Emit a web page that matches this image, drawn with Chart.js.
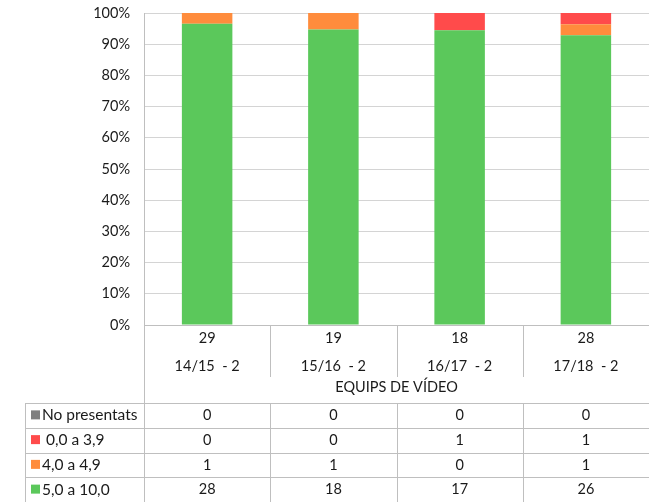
<!DOCTYPE html>
<html>
<head>
<meta charset="utf-8">
<script src="https://cdn.jsdelivr.net/npm/chart.js@4.4.1/dist/chart.umd.min.js"></script>
<style>
  html, body { margin: 0; padding: 0; background: #fff; }
  #wrap { width: 649px; height: 502px; }
</style>
</head>
<body>
<div id="wrap"><canvas id="chart" width="649" height="502"></canvas></div>
<script>
// data
const categories = ['14/15  - 2', '15/16  - 2', '16/17  - 2', '17/18  - 2'];
const axisTitle = 'EQUIPS DE VÍDEO';
const seriesNames = ['5,0 a 10,0', '4,0 a 4,9', ' 0,0 a 3,9', 'No presentats'];
const seriesColors = ['#5bc85b', '#ff8c3c', '#ff4b4b', '#7f7f7f'];
const notaAlta = [28, 18, 17, 26];
const notaMitja = [1, 1, 0, 1];
const notaBaixa = [0, 0, 1, 1];
const noPresentats = [0, 0, 0, 0];
const yTicks = [0, 10, 20, 30, 40, 50, 60, 70, 80, 90, 100];

const series = [notaAlta, notaMitja, notaBaixa, noPresentats];
const totals = categories.map((c, i) => series.reduce((s, arr) => s + arr[i], 0));
const pct = arr => arr.map((v, i) => totals[i] ? v / totals[i] * 100 : 0);

const FONT = 'Lato, "Open Sans", sans-serif';
const LINE = '#bfbfbf';

// table under the chart (legend + counts), drawn from the x scale
const tablePlugin = {
  id: 'dataTable',
  afterDraw(chart) {
    const ctx = chart.ctx;
    const x = chart.scales.x;
    const area = chart.chartArea;
    const n = categories.length;
    const colW = (area.right - area.left) / n;
    const tableTop = 403, rowH = 24.75, tableLeft = 25;
    const rows = series.length;
    const tableBottom = tableTop + rows * rowH;

    ctx.save();
    ctx.strokeStyle = LINE;
    ctx.lineWidth = 1;
    ctx.beginPath();
    // separators in the label band
    for (let i = 1; i < n; i++) {
      const px = Math.round(area.left + i * colW) + 0.5;
      ctx.moveTo(px, area.bottom); ctx.lineTo(px, 377);
      ctx.moveTo(px, tableTop); ctx.lineTo(px, tableBottom);
    }
    // left axis down through the table
    const lx = Math.round(area.left) + 0.5;
    ctx.moveTo(lx, area.bottom); ctx.lineTo(lx, tableBottom);
    // table left border
    ctx.moveTo(tableLeft + 0.5, tableTop); ctx.lineTo(tableLeft + 0.5, tableBottom);
    // row lines
    for (let r = 0; r <= rows; r++) {
      const py = Math.round(tableTop + r * rowH) + 0.5;
      ctx.moveTo(tableLeft, py); ctx.lineTo(area.right, py);
    }
    ctx.stroke();

    ctx.fillStyle = '#1a1a1a';
    ctx.textBaseline = 'middle';
    // rows from top: last series first
    for (let r = 0; r < rows; r++) {
      const si = rows - 1 - r;
      const cy = tableTop + r * rowH + rowH / 2;
      ctx.fillStyle = seriesColors[si];
      ctx.fillRect(tableLeft + 6, cy - 5, 9, 9);
      ctx.fillStyle = '#1a1a1a';
      ctx.textAlign = 'left';
      ctx.font = '15.5px ' + FONT;
      ctx.fillText(seriesNames[si], tableLeft + 17, cy);
      ctx.textAlign = 'center';
      ctx.font = '14.5px ' + FONT;
      for (let i = 0; i < n; i++) {
        ctx.fillText(String(series[si][i]), x.getPixelForValue(i), cy);
      }
    }
    ctx.restore();
  }
};

new Chart(document.getElementById('chart'), {
  type: 'bar',
  data: {
    labels: categories.map((c, i) => [String(totals[i]), c]),
    datasets: series.map((arr, i) => ({
      label: seriesNames[i],
      data: pct(arr),
      backgroundColor: seriesColors[i],
      borderWidth: 0,
      barPercentage: 0.4,
      categoryPercentage: 1
    }))
  },
  options: {
    responsive: false,
    animation: false,
    layout: { padding: { top: 13, right: 0, bottom: 102, left: 0 } },
    plugins: { legend: { display: false }, tooltip: { enabled: false } },
    scales: {
      x: {
        stacked: true,
        grid: { display: false },
        border: { display: true, color: LINE },
        ticks: { color: '#1a1a1a', font: { family: FONT, size: 14.5, lineHeight: 1.9 }, padding: -8, maxRotation: 0 },
        title: { display: true, text: axisTitle, color: '#1a1a1a', font: { family: FONT, size: 14.5 }, padding: { top: 0, bottom: 4 } },
        afterFit(s) { s.height = 75; s.paddingLeft = 0; s.paddingRight = 0; }
      },
      y: {
        stacked: true,
        min: 0, max: 100,
        afterBuildTicks(s) { s.ticks = yTicks.map(v => ({ value: v })); },
        grid: { color: '#d4d4d4', tickLength: 0 },
        border: { display: true, color: LINE },
        ticks: { color: '#1a1a1a', font: { family: FONT, size: 14.5 }, padding: 14, callback: v => v + '%' },
        afterFit(s) { s.width = 144; s.paddingTop = 0; s.paddingBottom = 0; }
      }
    }
  },
  plugins: [tablePlugin]
});
</script>
</body>
</html>
